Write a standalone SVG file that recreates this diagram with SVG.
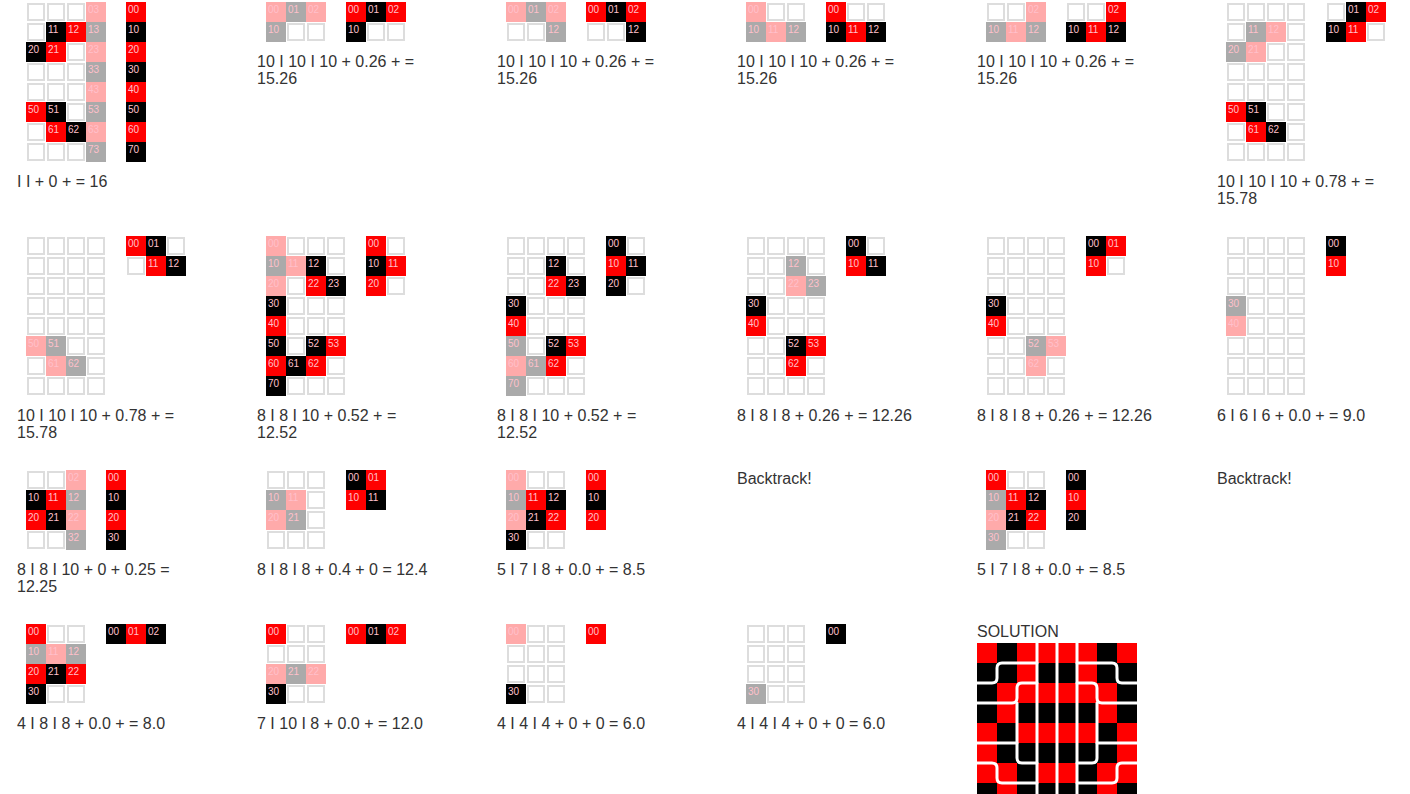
<svg xmlns="http://www.w3.org/2000/svg" width="1410" height="794" viewBox="0 0 1410 794">
<style>
.e{fill:#fff;stroke:#ddd;stroke-width:2}
.t{font-family:"Liberation Sans",Arial,sans-serif;font-size:16px;fill:#333}
.l{font-family:"Liberation Sans",Arial,sans-serif;font-size:10px;fill:#ffc0cb}
.sr{fill:#f00}.sb{fill:#000}
.w{fill:none;stroke:#fff;stroke-width:3;stroke-linejoin:round;stroke-linecap:round}
</style>
<defs>
<rect id="E" class="e" x="1" y="1" width="16" height="16"/>
<rect id="R" x="-1" y="-1" width="20" height="20" fill="#f00"/>
<rect id="B" x="-1" y="-1" width="20" height="20" fill="#000"/>
<rect id="P" x="-1" y="-1" width="20" height="20" fill="#ffaaaa"/>
<rect id="G" x="-1" y="-1" width="20" height="20" fill="#aaaaaa"/>
</defs>
<rect width="1410" height="794" fill="#fff"/>

<!-- Row 1 -->
<g id="step1" transform="translate(27,3)">
<use href="#E" x="0" y="0"/><use href="#E" x="20" y="0"/><use href="#E" x="40" y="0"/>
<use href="#E" x="0" y="20"/><use href="#E" x="40" y="40"/>
<use href="#E" x="0" y="60"/><use href="#E" x="20" y="60"/><use href="#E" x="40" y="60"/>
<use href="#E" x="0" y="80"/><use href="#E" x="20" y="80"/><use href="#E" x="40" y="80"/>
<use href="#E" x="40" y="100"/><use href="#E" x="0" y="120"/>
<use href="#E" x="0" y="140"/><use href="#E" x="20" y="140"/><use href="#E" x="40" y="140"/>
<use href="#P" x="60" y="0"/><use href="#B" x="20" y="20"/><use href="#R" x="40" y="20"/><use href="#G" x="60" y="20"/>
<use href="#B" x="0" y="40"/><use href="#R" x="20" y="40"/><use href="#P" x="60" y="40"/>
<use href="#G" x="60" y="60"/><use href="#P" x="60" y="80"/>
<use href="#R" x="0" y="100"/><use href="#B" x="20" y="100"/><use href="#G" x="60" y="100"/>
<use href="#R" x="20" y="120"/><use href="#B" x="40" y="120"/><use href="#P" x="60" y="120"/>
<use href="#G" x="60" y="140"/>
<text class="l" x="61" y="10">03</text><text class="l" x="21" y="30">11</text><text class="l" x="41" y="30">12</text><text class="l" x="61" y="30">13</text>
<text class="l" x="1" y="50">20</text><text class="l" x="21" y="50">21</text><text class="l" x="61" y="50">23</text>
<text class="l" x="61" y="70">33</text><text class="l" x="61" y="90">43</text>
<text class="l" x="1" y="110">50</text><text class="l" x="21" y="110">51</text><text class="l" x="61" y="110">53</text>
<text class="l" x="21" y="130">61</text><text class="l" x="41" y="130">62</text><text class="l" x="61" y="130">63</text>
<text class="l" x="61" y="150">73</text>
<g transform="translate(100,0)">
<use href="#R" x="0" y="0"/><use href="#B" x="0" y="20"/><use href="#R" x="0" y="40"/><use href="#B" x="0" y="60"/>
<use href="#R" x="0" y="80"/><use href="#B" x="0" y="100"/><use href="#R" x="0" y="120"/><use href="#B" x="0" y="140"/>
<text class="l" x="1" y="10">00</text><text class="l" x="1" y="30">10</text><text class="l" x="1" y="50">20</text><text class="l" x="1" y="70">30</text>
<text class="l" x="1" y="90">40</text><text class="l" x="1" y="110">50</text><text class="l" x="1" y="130">60</text><text class="l" x="1" y="150">70</text>
</g>
<text class="t" x="-10" y="184">I I + 0 + = 16</text>
</g>

<g id="step2" transform="translate(267,3)">
<use href="#E" x="20" y="20"/><use href="#E" x="40" y="20"/>
<use href="#P" x="0" y="0"/><use href="#G" x="20" y="0"/><use href="#P" x="40" y="0"/><use href="#G" x="0" y="20"/>
<text class="l" x="1" y="10">00</text><text class="l" x="21" y="10">01</text><text class="l" x="41" y="10">02</text><text class="l" x="1" y="30">10</text>
<g transform="translate(80,0)">
<use href="#E" x="20" y="20"/><use href="#E" x="40" y="20"/>
<use href="#R" x="0" y="0"/><use href="#B" x="20" y="0"/><use href="#R" x="40" y="0"/><use href="#B" x="0" y="20"/>
<text class="l" x="1" y="10">00</text><text class="l" x="21" y="10">01</text><text class="l" x="41" y="10">02</text><text class="l" x="1" y="30">10</text>
</g>
<text class="t" x="-10" y="64">10 I 10 I 10 + 0.26 + =</text>
<text class="t" x="-10" y="81">15.26</text>
</g>

<g id="step3" transform="translate(507,3)">
<use href="#E" x="0" y="20"/><use href="#E" x="20" y="20"/>
<use href="#P" x="0" y="0"/><use href="#G" x="20" y="0"/><use href="#P" x="40" y="0"/><use href="#G" x="40" y="20"/>
<text class="l" x="1" y="10">00</text><text class="l" x="21" y="10">01</text><text class="l" x="41" y="10">02</text><text class="l" x="41" y="30">12</text>
<g transform="translate(80,0)">
<use href="#E" x="0" y="20"/><use href="#E" x="20" y="20"/>
<use href="#R" x="0" y="0"/><use href="#B" x="20" y="0"/><use href="#R" x="40" y="0"/><use href="#B" x="40" y="20"/>
<text class="l" x="1" y="10">00</text><text class="l" x="21" y="10">01</text><text class="l" x="41" y="10">02</text><text class="l" x="41" y="30">12</text>
</g>
<text class="t" x="-10" y="64">10 I 10 I 10 + 0.26 + =</text>
<text class="t" x="-10" y="81">15.26</text>
</g>

<g id="step4" transform="translate(747,3)">
<use href="#E" x="20" y="0"/><use href="#E" x="40" y="0"/>
<use href="#P" x="0" y="0"/><use href="#G" x="0" y="20"/><use href="#P" x="20" y="20"/><use href="#G" x="40" y="20"/>
<text class="l" x="1" y="10">00</text><text class="l" x="1" y="30">10</text><text class="l" x="21" y="30">11</text><text class="l" x="41" y="30">12</text>
<g transform="translate(80,0)">
<use href="#E" x="20" y="0"/><use href="#E" x="40" y="0"/>
<use href="#R" x="0" y="0"/><use href="#B" x="0" y="20"/><use href="#R" x="20" y="20"/><use href="#B" x="40" y="20"/>
<text class="l" x="1" y="10">00</text><text class="l" x="1" y="30">10</text><text class="l" x="21" y="30">11</text><text class="l" x="41" y="30">12</text>
</g>
<text class="t" x="-10" y="64">10 I 10 I 10 + 0.26 + =</text>
<text class="t" x="-10" y="81">15.26</text>
</g>

<g id="step5" transform="translate(987,3)">
<use href="#E" x="0" y="0"/><use href="#E" x="20" y="0"/>
<use href="#P" x="40" y="0"/><use href="#G" x="0" y="20"/><use href="#P" x="20" y="20"/><use href="#G" x="40" y="20"/>
<text class="l" x="41" y="10">02</text><text class="l" x="1" y="30">10</text><text class="l" x="21" y="30">11</text><text class="l" x="41" y="30">12</text>
<g transform="translate(80,0)">
<use href="#E" x="0" y="0"/><use href="#E" x="20" y="0"/>
<use href="#R" x="40" y="0"/><use href="#B" x="0" y="20"/><use href="#R" x="20" y="20"/><use href="#B" x="40" y="20"/>
<text class="l" x="41" y="10">02</text><text class="l" x="1" y="30">10</text><text class="l" x="21" y="30">11</text><text class="l" x="41" y="30">12</text>
</g>
<text class="t" x="-10" y="64">10 I 10 I 10 + 0.26 + =</text>
<text class="t" x="-10" y="81">15.26</text>
</g>

<g id="step6" transform="translate(1227,3)">
<use href="#E" x="0" y="0"/><use href="#E" x="20" y="0"/><use href="#E" x="40" y="0"/><use href="#E" x="60" y="0"/>
<use href="#E" x="0" y="20"/><use href="#E" x="60" y="20"/>
<use href="#E" x="40" y="40"/><use href="#E" x="60" y="40"/>
<use href="#E" x="0" y="60"/><use href="#E" x="20" y="60"/><use href="#E" x="40" y="60"/><use href="#E" x="60" y="60"/>
<use href="#E" x="0" y="80"/><use href="#E" x="20" y="80"/><use href="#E" x="40" y="80"/><use href="#E" x="60" y="80"/>
<use href="#E" x="40" y="100"/><use href="#E" x="60" y="100"/>
<use href="#E" x="0" y="120"/><use href="#E" x="60" y="120"/>
<use href="#E" x="0" y="140"/><use href="#E" x="20" y="140"/><use href="#E" x="40" y="140"/><use href="#E" x="60" y="140"/>
<use href="#G" x="20" y="20"/><use href="#P" x="40" y="20"/><use href="#G" x="0" y="40"/><use href="#P" x="20" y="40"/>
<use href="#R" x="0" y="100"/><use href="#B" x="20" y="100"/><use href="#R" x="20" y="120"/><use href="#B" x="40" y="120"/>
<text class="l" x="21" y="30">11</text><text class="l" x="41" y="30">12</text><text class="l" x="1" y="50">20</text><text class="l" x="21" y="50">21</text>
<text class="l" x="1" y="110">50</text><text class="l" x="21" y="110">51</text><text class="l" x="21" y="130">61</text><text class="l" x="41" y="130">62</text>
<g transform="translate(100,0)">
<use href="#E" x="0" y="0"/><use href="#E" x="40" y="20"/>
<use href="#B" x="20" y="0"/><use href="#R" x="40" y="0"/><use href="#B" x="0" y="20"/><use href="#R" x="20" y="20"/>
<text class="l" x="21" y="10">01</text><text class="l" x="41" y="10">02</text><text class="l" x="1" y="30">10</text><text class="l" x="21" y="30">11</text>
</g>
<text class="t" x="-10" y="184">10 I 10 I 10 + 0.78 + =</text>
<text class="t" x="-10" y="201">15.78</text>
</g>

<!-- Row 2 -->
<g id="step7" transform="translate(27,237)">
<use href="#E" x="0" y="0"/><use href="#E" x="20" y="0"/><use href="#E" x="40" y="0"/><use href="#E" x="60" y="0"/>
<use href="#E" x="0" y="20"/><use href="#E" x="20" y="20"/><use href="#E" x="40" y="20"/><use href="#E" x="60" y="20"/>
<use href="#E" x="0" y="40"/><use href="#E" x="20" y="40"/><use href="#E" x="40" y="40"/><use href="#E" x="60" y="40"/>
<use href="#E" x="0" y="60"/><use href="#E" x="20" y="60"/><use href="#E" x="40" y="60"/><use href="#E" x="60" y="60"/>
<use href="#E" x="0" y="80"/><use href="#E" x="20" y="80"/><use href="#E" x="40" y="80"/><use href="#E" x="60" y="80"/>
<use href="#E" x="40" y="100"/><use href="#E" x="60" y="100"/>
<use href="#E" x="0" y="120"/><use href="#E" x="60" y="120"/>
<use href="#E" x="0" y="140"/><use href="#E" x="20" y="140"/><use href="#E" x="40" y="140"/><use href="#E" x="60" y="140"/>
<use href="#P" x="0" y="100"/><use href="#G" x="20" y="100"/><use href="#P" x="20" y="120"/><use href="#G" x="40" y="120"/>
<text class="l" x="1" y="110">50</text><text class="l" x="21" y="110">51</text><text class="l" x="21" y="130">61</text><text class="l" x="41" y="130">62</text>
<g transform="translate(100,0)">
<use href="#E" x="40" y="0"/><use href="#E" x="0" y="20"/>
<use href="#R" x="0" y="0"/><use href="#B" x="20" y="0"/><use href="#R" x="20" y="20"/><use href="#B" x="40" y="20"/>
<text class="l" x="1" y="10">00</text><text class="l" x="21" y="10">01</text><text class="l" x="21" y="30">11</text><text class="l" x="41" y="30">12</text>
</g>
<text class="t" x="-10" y="184">10 I 10 I 10 + 0.78 + =</text>
<text class="t" x="-10" y="201">15.78</text>
</g>

<g id="step8" transform="translate(267,237)">
<use href="#E" x="20" y="0"/><use href="#E" x="40" y="0"/><use href="#E" x="60" y="0"/>
<use href="#E" x="60" y="20"/><use href="#E" x="20" y="40"/>
<use href="#E" x="20" y="60"/><use href="#E" x="40" y="60"/><use href="#E" x="60" y="60"/>
<use href="#E" x="20" y="80"/><use href="#E" x="40" y="80"/><use href="#E" x="60" y="80"/>
<use href="#E" x="20" y="100"/><use href="#E" x="60" y="120"/>
<use href="#E" x="20" y="140"/><use href="#E" x="40" y="140"/><use href="#E" x="60" y="140"/>
<use href="#P" x="0" y="0"/><use href="#G" x="0" y="20"/><use href="#P" x="20" y="20"/><use href="#B" x="40" y="20"/>
<use href="#P" x="0" y="40"/><use href="#R" x="40" y="40"/><use href="#B" x="60" y="40"/>
<use href="#B" x="0" y="60"/><use href="#R" x="0" y="80"/>
<use href="#B" x="0" y="100"/><use href="#B" x="40" y="100"/><use href="#R" x="60" y="100"/>
<use href="#R" x="0" y="120"/><use href="#B" x="20" y="120"/><use href="#R" x="40" y="120"/>
<use href="#B" x="0" y="140"/>
<text class="l" x="1" y="10">00</text><text class="l" x="1" y="30">10</text><text class="l" x="21" y="30">11</text><text class="l" x="41" y="30">12</text>
<text class="l" x="1" y="50">20</text><text class="l" x="41" y="50">22</text><text class="l" x="61" y="50">23</text>
<text class="l" x="1" y="70">30</text><text class="l" x="1" y="90">40</text>
<text class="l" x="1" y="110">50</text><text class="l" x="41" y="110">52</text><text class="l" x="61" y="110">53</text>
<text class="l" x="1" y="130">60</text><text class="l" x="21" y="130">61</text><text class="l" x="41" y="130">62</text>
<text class="l" x="1" y="150">70</text>
<g transform="translate(100,0)">
<use href="#E" x="20" y="0"/><use href="#E" x="20" y="40"/>
<use href="#R" x="0" y="0"/><use href="#B" x="0" y="20"/><use href="#R" x="20" y="20"/><use href="#R" x="0" y="40"/>
<text class="l" x="1" y="10">00</text><text class="l" x="1" y="30">10</text><text class="l" x="21" y="30">11</text><text class="l" x="1" y="50">20</text>
</g>
<text class="t" x="-10" y="184">8 I 8 I 10 + 0.52 + =</text>
<text class="t" x="-10" y="201">12.52</text>
</g>

<g id="step9" transform="translate(507,237)">
<use href="#E" x="0" y="0"/><use href="#E" x="20" y="0"/><use href="#E" x="40" y="0"/><use href="#E" x="60" y="0"/>
<use href="#E" x="0" y="20"/><use href="#E" x="20" y="20"/><use href="#E" x="60" y="20"/>
<use href="#E" x="0" y="40"/><use href="#E" x="20" y="40"/>
<use href="#E" x="20" y="60"/><use href="#E" x="40" y="60"/><use href="#E" x="60" y="60"/>
<use href="#E" x="20" y="80"/><use href="#E" x="40" y="80"/><use href="#E" x="60" y="80"/>
<use href="#E" x="20" y="100"/><use href="#E" x="60" y="120"/>
<use href="#E" x="20" y="140"/><use href="#E" x="40" y="140"/><use href="#E" x="60" y="140"/>
<use href="#B" x="40" y="20"/><use href="#R" x="40" y="40"/><use href="#B" x="60" y="40"/>
<use href="#B" x="0" y="60"/><use href="#R" x="0" y="80"/>
<use href="#G" x="0" y="100"/><use href="#B" x="40" y="100"/><use href="#R" x="60" y="100"/>
<use href="#P" x="0" y="120"/><use href="#G" x="20" y="120"/><use href="#R" x="40" y="120"/>
<use href="#G" x="0" y="140"/>
<text class="l" x="41" y="30">12</text><text class="l" x="41" y="50">22</text><text class="l" x="61" y="50">23</text>
<text class="l" x="1" y="70">30</text><text class="l" x="1" y="90">40</text>
<text class="l" x="1" y="110">50</text><text class="l" x="41" y="110">52</text><text class="l" x="61" y="110">53</text>
<text class="l" x="1" y="130">60</text><text class="l" x="21" y="130">61</text><text class="l" x="41" y="130">62</text>
<text class="l" x="1" y="150">70</text>
<g transform="translate(100,0)">
<use href="#E" x="20" y="0"/><use href="#E" x="20" y="40"/>
<use href="#B" x="0" y="0"/><use href="#R" x="0" y="20"/><use href="#B" x="20" y="20"/><use href="#B" x="0" y="40"/>
<text class="l" x="1" y="10">00</text><text class="l" x="1" y="30">10</text><text class="l" x="21" y="30">11</text><text class="l" x="1" y="50">20</text>
</g>
<text class="t" x="-10" y="184">8 I 8 I 10 + 0.52 + =</text>
<text class="t" x="-10" y="201">12.52</text>
</g>

<g id="step10" transform="translate(747,237)">
<use href="#E" x="0" y="0"/><use href="#E" x="20" y="0"/><use href="#E" x="40" y="0"/><use href="#E" x="60" y="0"/>
<use href="#E" x="0" y="20"/><use href="#E" x="20" y="20"/><use href="#E" x="60" y="20"/>
<use href="#E" x="0" y="40"/><use href="#E" x="20" y="40"/>
<use href="#E" x="20" y="60"/><use href="#E" x="40" y="60"/><use href="#E" x="60" y="60"/>
<use href="#E" x="20" y="80"/><use href="#E" x="40" y="80"/><use href="#E" x="60" y="80"/>
<use href="#E" x="0" y="100"/><use href="#E" x="20" y="100"/>
<use href="#E" x="0" y="120"/><use href="#E" x="20" y="120"/><use href="#E" x="60" y="120"/>
<use href="#E" x="0" y="140"/><use href="#E" x="20" y="140"/><use href="#E" x="40" y="140"/><use href="#E" x="60" y="140"/>
<use href="#G" x="40" y="20"/><use href="#P" x="40" y="40"/><use href="#G" x="60" y="40"/>
<use href="#B" x="0" y="60"/><use href="#R" x="0" y="80"/>
<use href="#B" x="40" y="100"/><use href="#R" x="60" y="100"/><use href="#R" x="40" y="120"/>
<text class="l" x="41" y="30">12</text><text class="l" x="41" y="50">22</text><text class="l" x="61" y="50">23</text>
<text class="l" x="1" y="70">30</text><text class="l" x="1" y="90">40</text>
<text class="l" x="41" y="110">52</text><text class="l" x="61" y="110">53</text><text class="l" x="41" y="130">62</text>
<g transform="translate(100,0)">
<use href="#E" x="20" y="0"/>
<use href="#B" x="0" y="0"/><use href="#R" x="0" y="20"/><use href="#B" x="20" y="20"/>
<text class="l" x="1" y="10">00</text><text class="l" x="1" y="30">10</text><text class="l" x="21" y="30">11</text>
</g>
<text class="t" x="-10" y="184">8 I 8 I 8 + 0.26 + = 12.26</text>
</g>

<g id="step11" transform="translate(987,237)">
<use href="#E" x="0" y="0"/><use href="#E" x="20" y="0"/><use href="#E" x="40" y="0"/><use href="#E" x="60" y="0"/>
<use href="#E" x="0" y="20"/><use href="#E" x="20" y="20"/><use href="#E" x="40" y="20"/><use href="#E" x="60" y="20"/>
<use href="#E" x="0" y="40"/><use href="#E" x="20" y="40"/><use href="#E" x="40" y="40"/><use href="#E" x="60" y="40"/>
<use href="#E" x="20" y="60"/><use href="#E" x="40" y="60"/><use href="#E" x="60" y="60"/>
<use href="#E" x="20" y="80"/><use href="#E" x="40" y="80"/><use href="#E" x="60" y="80"/>
<use href="#E" x="0" y="100"/><use href="#E" x="20" y="100"/>
<use href="#E" x="0" y="120"/><use href="#E" x="20" y="120"/><use href="#E" x="60" y="120"/>
<use href="#E" x="0" y="140"/><use href="#E" x="20" y="140"/><use href="#E" x="40" y="140"/><use href="#E" x="60" y="140"/>
<use href="#B" x="0" y="60"/><use href="#R" x="0" y="80"/>
<use href="#G" x="40" y="100"/><use href="#P" x="60" y="100"/><use href="#P" x="40" y="120"/>
<text class="l" x="1" y="70">30</text><text class="l" x="1" y="90">40</text>
<text class="l" x="41" y="110">52</text><text class="l" x="61" y="110">53</text><text class="l" x="41" y="130">62</text>
<g transform="translate(100,0)">
<use href="#E" x="20" y="20"/>
<use href="#B" x="0" y="0"/><use href="#R" x="20" y="0"/><use href="#R" x="0" y="20"/>
<text class="l" x="1" y="10">00</text><text class="l" x="21" y="10">01</text><text class="l" x="1" y="30">10</text>
</g>
<text class="t" x="-10" y="184">8 I 8 I 8 + 0.26 + = 12.26</text>
</g>

<g id="step12" transform="translate(1227,237)">
<use href="#E" x="0" y="0"/><use href="#E" x="20" y="0"/><use href="#E" x="40" y="0"/><use href="#E" x="60" y="0"/>
<use href="#E" x="0" y="20"/><use href="#E" x="20" y="20"/><use href="#E" x="40" y="20"/><use href="#E" x="60" y="20"/>
<use href="#E" x="0" y="40"/><use href="#E" x="20" y="40"/><use href="#E" x="40" y="40"/><use href="#E" x="60" y="40"/>
<use href="#E" x="20" y="60"/><use href="#E" x="40" y="60"/><use href="#E" x="60" y="60"/>
<use href="#E" x="20" y="80"/><use href="#E" x="40" y="80"/><use href="#E" x="60" y="80"/>
<use href="#E" x="0" y="100"/><use href="#E" x="20" y="100"/><use href="#E" x="40" y="100"/><use href="#E" x="60" y="100"/>
<use href="#E" x="0" y="120"/><use href="#E" x="20" y="120"/><use href="#E" x="40" y="120"/><use href="#E" x="60" y="120"/>
<use href="#E" x="0" y="140"/><use href="#E" x="20" y="140"/><use href="#E" x="40" y="140"/><use href="#E" x="60" y="140"/>
<use href="#G" x="0" y="60"/><use href="#P" x="0" y="80"/>
<text class="l" x="1" y="70">30</text><text class="l" x="1" y="90">40</text>
<g transform="translate(100,0)">
<use href="#B" x="0" y="0"/><use href="#R" x="0" y="20"/>
<text class="l" x="1" y="10">00</text><text class="l" x="1" y="30">10</text>
</g>
<text class="t" x="-10" y="184">6 I 6 I 6 + 0.0 + = 9.0</text>
</g>

<!-- Row 3 -->
<g id="step13" transform="translate(27,471)">
<use href="#E" x="0" y="0"/><use href="#E" x="20" y="0"/><use href="#E" x="0" y="60"/><use href="#E" x="20" y="60"/>
<use href="#P" x="40" y="0"/><use href="#B" x="0" y="20"/><use href="#R" x="20" y="20"/><use href="#G" x="40" y="20"/>
<use href="#R" x="0" y="40"/><use href="#B" x="20" y="40"/><use href="#P" x="40" y="40"/><use href="#G" x="40" y="60"/>
<text class="l" x="41" y="10">02</text><text class="l" x="1" y="30">10</text><text class="l" x="21" y="30">11</text><text class="l" x="41" y="30">12</text>
<text class="l" x="1" y="50">20</text><text class="l" x="21" y="50">21</text><text class="l" x="41" y="50">22</text><text class="l" x="41" y="70">32</text>
<g transform="translate(80,0)">
<use href="#R" x="0" y="0"/><use href="#B" x="0" y="20"/><use href="#R" x="0" y="40"/><use href="#B" x="0" y="60"/>
<text class="l" x="1" y="10">00</text><text class="l" x="1" y="30">10</text><text class="l" x="1" y="50">20</text><text class="l" x="1" y="70">30</text>
</g>
<text class="t" x="-10" y="104">8 I 8 I 10 + 0 + 0.25 =</text>
<text class="t" x="-10" y="121">12.25</text>
</g>

<g id="step14" transform="translate(267,471)">
<use href="#E" x="0" y="0"/><use href="#E" x="20" y="0"/><use href="#E" x="40" y="0"/>
<use href="#E" x="40" y="20"/><use href="#E" x="40" y="40"/>
<use href="#E" x="0" y="60"/><use href="#E" x="20" y="60"/><use href="#E" x="40" y="60"/>
<use href="#G" x="0" y="20"/><use href="#P" x="20" y="20"/><use href="#P" x="0" y="40"/><use href="#G" x="20" y="40"/>
<text class="l" x="1" y="30">10</text><text class="l" x="21" y="30">11</text><text class="l" x="1" y="50">20</text><text class="l" x="21" y="50">21</text>
<g transform="translate(80,0)">
<use href="#B" x="0" y="0"/><use href="#R" x="20" y="0"/><use href="#R" x="0" y="20"/><use href="#B" x="20" y="20"/>
<text class="l" x="1" y="10">00</text><text class="l" x="21" y="10">01</text><text class="l" x="1" y="30">10</text><text class="l" x="21" y="30">11</text>
</g>
<text class="t" x="-10" y="104">8 I 8 I 8 + 0.4 + 0 = 12.4</text>
</g>

<g id="step15" transform="translate(507,471)">
<use href="#E" x="20" y="0"/><use href="#E" x="40" y="0"/><use href="#E" x="20" y="60"/><use href="#E" x="40" y="60"/>
<use href="#P" x="0" y="0"/><use href="#G" x="0" y="20"/><use href="#R" x="20" y="20"/><use href="#B" x="40" y="20"/>
<use href="#P" x="0" y="40"/><use href="#B" x="20" y="40"/><use href="#R" x="40" y="40"/><use href="#B" x="0" y="60"/>
<text class="l" x="1" y="10">00</text><text class="l" x="1" y="30">10</text><text class="l" x="21" y="30">11</text><text class="l" x="41" y="30">12</text>
<text class="l" x="1" y="50">20</text><text class="l" x="21" y="50">21</text><text class="l" x="41" y="50">22</text><text class="l" x="1" y="70">30</text>
<g transform="translate(80,0)">
<use href="#R" x="0" y="0"/><use href="#B" x="0" y="20"/><use href="#R" x="0" y="40"/>
<text class="l" x="1" y="10">00</text><text class="l" x="1" y="30">10</text><text class="l" x="1" y="50">20</text>
</g>
<text class="t" x="-10" y="104">5 I 7 I 8 + 0.0 + = 8.5</text>
</g>

<g id="step16">
<text class="t" x="737" y="484">Backtrack!</text>
</g>

<g id="step17" transform="translate(987,471)">
<use href="#E" x="20" y="0"/><use href="#E" x="40" y="0"/><use href="#E" x="20" y="60"/><use href="#E" x="40" y="60"/>
<use href="#R" x="0" y="0"/><use href="#G" x="0" y="20"/><use href="#R" x="20" y="20"/><use href="#B" x="40" y="20"/>
<use href="#P" x="0" y="40"/><use href="#B" x="20" y="40"/><use href="#R" x="40" y="40"/><use href="#G" x="0" y="60"/>
<text class="l" x="1" y="10">00</text><text class="l" x="1" y="30">10</text><text class="l" x="21" y="30">11</text><text class="l" x="41" y="30">12</text>
<text class="l" x="1" y="50">20</text><text class="l" x="21" y="50">21</text><text class="l" x="41" y="50">22</text><text class="l" x="1" y="70">30</text>
<g transform="translate(80,0)">
<use href="#B" x="0" y="0"/><use href="#R" x="0" y="20"/><use href="#B" x="0" y="40"/>
<text class="l" x="1" y="10">00</text><text class="l" x="1" y="30">10</text><text class="l" x="1" y="50">20</text>
</g>
<text class="t" x="-10" y="104">5 I 7 I 8 + 0.0 + = 8.5</text>
</g>

<g id="step18">
<text class="t" x="1217" y="484">Backtrack!</text>
</g>

<!-- Row 4 -->
<g id="step19" transform="translate(27,625)">
<use href="#E" x="20" y="0"/><use href="#E" x="40" y="0"/><use href="#E" x="20" y="60"/><use href="#E" x="40" y="60"/>
<use href="#R" x="0" y="0"/><use href="#G" x="0" y="20"/><use href="#P" x="20" y="20"/><use href="#G" x="40" y="20"/>
<use href="#R" x="0" y="40"/><use href="#B" x="20" y="40"/><use href="#R" x="40" y="40"/><use href="#B" x="0" y="60"/>
<text class="l" x="1" y="10">00</text><text class="l" x="1" y="30">10</text><text class="l" x="21" y="30">11</text><text class="l" x="41" y="30">12</text>
<text class="l" x="1" y="50">20</text><text class="l" x="21" y="50">21</text><text class="l" x="41" y="50">22</text><text class="l" x="1" y="70">30</text>
<g transform="translate(80,0)">
<use href="#B" x="0" y="0"/><use href="#R" x="20" y="0"/><use href="#B" x="40" y="0"/>
<text class="l" x="1" y="10">00</text><text class="l" x="21" y="10">01</text><text class="l" x="41" y="10">02</text>
</g>
<text class="t" x="-10" y="104">4 I 8 I 8 + 0.0 + = 8.0</text>
</g>

<g id="step20" transform="translate(267,625)">
<use href="#E" x="20" y="0"/><use href="#E" x="40" y="0"/>
<use href="#E" x="0" y="20"/><use href="#E" x="20" y="20"/><use href="#E" x="40" y="20"/>
<use href="#E" x="20" y="60"/><use href="#E" x="40" y="60"/>
<use href="#R" x="0" y="0"/><use href="#P" x="0" y="40"/><use href="#G" x="20" y="40"/><use href="#P" x="40" y="40"/><use href="#B" x="0" y="60"/>
<text class="l" x="1" y="10">00</text><text class="l" x="1" y="50">20</text><text class="l" x="21" y="50">21</text><text class="l" x="41" y="50">22</text><text class="l" x="1" y="70">30</text>
<g transform="translate(80,0)">
<use href="#R" x="0" y="0"/><use href="#B" x="20" y="0"/><use href="#R" x="40" y="0"/>
<text class="l" x="1" y="10">00</text><text class="l" x="21" y="10">01</text><text class="l" x="41" y="10">02</text>
</g>
<text class="t" x="-10" y="104">7 I 10 I 8 + 0.0 + = 12.0</text>
</g>

<g id="step21" transform="translate(507,625)">
<use href="#E" x="20" y="0"/><use href="#E" x="40" y="0"/>
<use href="#E" x="0" y="20"/><use href="#E" x="20" y="20"/><use href="#E" x="40" y="20"/>
<use href="#E" x="0" y="40"/><use href="#E" x="20" y="40"/><use href="#E" x="40" y="40"/>
<use href="#E" x="20" y="60"/><use href="#E" x="40" y="60"/>
<use href="#P" x="0" y="0"/><use href="#B" x="0" y="60"/>
<text class="l" x="1" y="10">00</text><text class="l" x="1" y="70">30</text>
<g transform="translate(80,0)">
<use href="#R" x="0" y="0"/>
<text class="l" x="1" y="10">00</text>
</g>
<text class="t" x="-10" y="104">4 I 4 I 4 + 0 + 0 = 6.0</text>
</g>

<g id="step22" transform="translate(747,625)">
<use href="#E" x="0" y="0"/><use href="#E" x="20" y="0"/><use href="#E" x="40" y="0"/>
<use href="#E" x="0" y="20"/><use href="#E" x="20" y="20"/><use href="#E" x="40" y="20"/>
<use href="#E" x="0" y="40"/><use href="#E" x="20" y="40"/><use href="#E" x="40" y="40"/>
<use href="#E" x="20" y="60"/><use href="#E" x="40" y="60"/>
<use href="#G" x="0" y="60"/>
<text class="l" x="1" y="70">30</text>
<g transform="translate(80,0)">
<use href="#B" x="0" y="0"/>
<text class="l" x="1" y="10">00</text>
</g>
<text class="t" x="-10" y="104">4 I 4 I 4 + 0 + 0 = 6.0</text>
</g>

<g id="solution">
<text class="t" x="977" y="637">SOLUTION</text>
<rect class="sr" x="977" y="643" width="160" height="160"/>
<g class="sb">
<rect x="997" y="643" width="20" height="20"/><rect x="1097" y="643" width="20" height="20"/>
<rect x="977" y="663" width="40" height="20"/><rect x="1037" y="663" width="40" height="20"/><rect x="1097" y="663" width="40" height="20"/>
<rect x="977" y="683" width="20" height="20"/><rect x="1117" y="683" width="20" height="20"/>
<rect x="977" y="703" width="20" height="20"/><rect x="1017" y="703" width="80" height="20"/><rect x="1117" y="703" width="20" height="20"/>
<rect x="997" y="723" width="20" height="20"/><rect x="1097" y="723" width="20" height="20"/>
<rect x="997" y="743" width="120" height="20"/>
<rect x="1017" y="763" width="20" height="20"/><rect x="1077" y="763" width="20" height="20"/>
<rect x="977" y="783" width="20" height="20"/><rect x="1017" y="783" width="80" height="20"/><rect x="1117" y="783" width="20" height="20"/>
</g>
<g class="w">
<path d="M1037,643V803M1057,643V803M1077,643V803"/>
<path d="M977,683H992Q997,683 997,678V668Q997,663 1002,663H1037"/>
<path d="M977,703H1012Q1017,703 1017,698V688Q1017,683 1022,683H1037"/>
<path d="M1017,703V758Q1017,763 1022,763H1037"/>
<path d="M977,743H1017"/>
<path d="M977,763H992Q997,763 997,768V778Q997,783 1002,783H1037"/>
<path d="M1137,683H1122Q1117,683 1117,678V668Q1117,663 1112,663H1077"/>
<path d="M1137,703H1102Q1097,703 1097,698V688Q1097,683 1092,683H1077"/>
<path d="M1097,703V758Q1097,763 1092,763H1077"/>
<path d="M1137,743H1097"/>
<path d="M1137,763H1122Q1117,763 1117,768V778Q1117,783 1112,783H1077"/>
</g>
</g>
</svg>
